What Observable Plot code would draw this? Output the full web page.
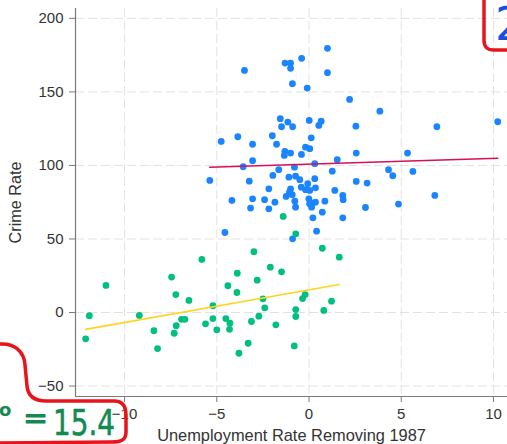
<!DOCTYPE html>
<html>
<head>
<meta charset="utf-8">
<script src="https://cdn.jsdelivr.net/npm/d3@7"></script>
<script src="https://cdn.jsdelivr.net/npm/@observablehq/plot@0.6"></script>
<style>
  html, body { margin: 0; padding: 0; background: #fff; }
  #wrap { position: relative; width: 507px; height: 444px; overflow: hidden; }
  #wrap svg.overlay { position: absolute; left: 0; top: 0; pointer-events: none; }
</style>
</head>
<body>
<div id="wrap"></div>
<script>
// Group 1 (blue): unemployment rate (x) and crime rate (y)
const blueX = [1.0,-3.5,-1.3,-1.0,-1.0,-0.4,1.0,-0.9,-0.1,2.2,3.84,2.54,6.93,10.23,-1.56,-1.15,-1.49,-0.89,0.01,0.66,0.53,
  -4.76,-3.86,-3.06,-1.99,-1.76,0.12,-0.19,0.04,-1.31,-1.34,-1.0,-0.41,2.56,5.34,1.53,0.31,-0.79,-3.06,-3.57,-1.64,1.26,
  4.31,4.54,5.63,-5.38,-3.24,-1.96,-1.09,-0.73,-0.5,0.31,-0.07,2.56,3.15,-2.18,-1.0,-1.06,-0.42,-0.19,0.04,0.35,1.4,
  -0.91,-1.24,1.83,1.85,-4.18,-3.06,-2.41,-1.85,-0.77,-0.01,0.03,0.21,0.35,0.86,0.14,-0.73,-2.18,-3.17,0.72,0.21,1.83,
  3.06,4.85,6.82,0.41,-4.56,-0.89];
const blueY = [179.6,164.6,169.6,169.6,166.0,172.8,163.1,155.6,152.6,144.9,136.9,126.7,126.3,129.7,131.8,129.5,126.3,126.3,130.6,130.1,127.2,
  116.3,119.5,114.4,120.2,114.4,118.8,112.4,111.4,109.5,106.8,108.4,107.5,108.4,108.4,103.9,101.2,98.8,103.2,99.1,97.1,96.1,
  97.1,93.0,95.9,89.8,89.3,93.2,92.0,92.7,90.3,91.0,87.6,89.1,88.0,84.1,84.1,81.8,85.2,83.5,83.0,84.8,83.0,
  80.1,78.9,79.6,76.7,76.2,77.3,76.7,75.0,75.7,77.3,73.9,74.4,75.0,75.7,71.6,71.6,70.5,71.0,68.2,64.4,64.4,
  71.4,73.7,79.6,55.3,54.4,50.1];
// Group 2 (green)
const greenX = [-1.4,-0.72,0.72,1.64,-2.99,-5.81,-7.45,-2.1,-1.49,-3.89,-2.81,-4.4,-3.91,-11.01,-7.22,-6.51,-2.5,-2.4,-5.21,
  -0.35,-0.21,1.22,0.8,-0.72,-0.72,-2.72,-3.12,-1.8,-4.51,-4.29,-4.31,-5.21,-5.0,-5.61,-6.91,-6.73,-7.2,-7.31,-3.3,-3.8,
  -0.8,-11.91,-12.11,-9.2,-8.41,-8.21];
const greenY = [65.3,53.5,43.7,37.6,41.3,36.1,24.1,30.8,27.7,26.7,22.0,18.2,13.6,18.4,12.2,8.2,9.3,3.2,4.6,
  9.5,12.2,7.7,1.4,2.0,-2.7,-2.5,-6.1,-8.4,-4.1,-7.3,-11.4,-4.1,-11.8,-7.7,-4.6,-4.6,-9.0,-14.1,-20.9,-27.7,
  -22.7,-2.2,-17.9,-2.0,-12.4,-24.5];
// fitted lines (intercept, slope) per group
const fitIntercepts = [100.9, 15.4];
const fitSlopes = [0.39, 2.22];

const xTicks = [-10, -5, 0, 5, 10];
const yTicks = [-50, 0, 50, 100, 150, 200];
const xDomain = [-12.66, 10.76];
const yDomain = [-57.1, 206.7];
const xLabel = "Unemployment Rate Removing 1987";
const yLabel = "Crime Rate";
const noteTop = "2";
const noteBottomSub = "o";
const noteBottomEq = "=";
const noteBottomVal = "15.4";

const blue = blueX.map((x, i) => ({x, y: blueY[i]}));
const green = greenX.map((x, i) => ({x, y: greenY[i]}));
const fitLine = (xs, k) => d3.extent(xs).map(x => ({x, y: fitIntercepts[k] + fitSlopes[k] * x}));

const grid = {stroke: "#e2e2e2", strokeDasharray: "9,4", strokeWidth: 1};
const axisColor = "#7a7a7a";

const chart = Plot.plot({
  width: 507,
  height: 444,
  marginLeft: 75,
  marginRight: 0,
  marginTop: 8,
  marginBottom: 48,
  style: {fontFamily: "'Liberation Sans', Arial, sans-serif", background: "#fff", color: "#333"},
  x: {domain: xDomain},
  y: {domain: yDomain},
  marks: [
    Plot.ruleX(xTicks, grid),
    Plot.ruleY(yTicks, grid),
    Plot.ruleX([xDomain[0]], {stroke: axisColor, strokeWidth: 1.2}),
    Plot.ruleY([yDomain[0]], {stroke: axisColor, strokeWidth: 1.2}),
    Plot.axisY(yTicks, {tickSize: 6, tickPadding: 6, fontSize: 15, stroke: axisColor, fill: "#333", label: null}),
    Plot.axisX(xTicks, {tickSize: 6, tickPadding: 6, fontSize: 15, stroke: axisColor, fill: "#333", label: null}),
    Plot.text([yLabel], {frameAnchor: "left", textAnchor: "middle", lineAnchor: "middle", rotate: -90, dx: -60, fontSize: 16.2, fill: "#333"}),
    Plot.text([xLabel], {frameAnchor: "bottom", textAnchor: "middle", lineAnchor: "middle", dy: 39, fontSize: 16.4, fill: "#333"}),
    Plot.dot(blue, {x: "x", y: "y", r: 3.4, fill: "#1a85ff", stroke: null}),
    Plot.dot(green, {x: "x", y: "y", r: 3.4, fill: "#00bf7f", stroke: null}),
    Plot.line(fitLine(blueX, 0), {x: "x", y: "y", stroke: "#d41159", strokeWidth: 1.6}),
    Plot.line(fitLine(greenX, 1), {x: "x", y: "y", stroke: "#ffd420", strokeWidth: 1.6})
  ]
});
document.getElementById("wrap").appendChild(chart);

// hand-drawn annotations overlay
const ov = d3.select("#wrap").append("svg").attr("class", "overlay")
  .attr("width", 507).attr("height", 444);
ov.append("path")
  .attr("d", "M484,0 L484,40 C484,47 487,50 494,50 L507,50")
  .attr("fill", "none").attr("stroke", "#e8141c").attr("stroke-width", 3.5).attr("stroke-linecap", "round");
ov.append("text").text(noteTop)
  .attr("x", 495).attr("y", 40).attr("font-size", 46).attr("font-family", "'DejaVu Sans', sans-serif")
  .attr("fill", "#1650dc");
ov.append("path")
  .attr("d", "M0,344 C14,343 24,351 25,365 L27,386 C28,396 34,401 46,401 L114,401 C122,401 126,406 126,415 L126,432 C126,440 121,442 112,442 L0,443")
  .attr("fill", "none").attr("stroke", "#e8141c").attr("stroke-width", 3.5).attr("stroke-linecap", "round");
const gcol = "#138a52";
ov.append("text").text(noteBottomSub).attr("x", -1).attr("y", 416).attr("font-size", 18)
  .attr("font-family", "'DejaVu Sans', sans-serif").attr("font-weight", "bold").attr("fill", gcol);
ov.append("text").text(noteBottomEq).attr("x", 23).attr("y", 428).attr("font-size", 30)
  .attr("font-family", "'DejaVu Sans', sans-serif").attr("fill", gcol)
  .attr("stroke", gcol).attr("stroke-width", 0.8);
ov.append("text").text(noteBottomVal).attr("x", 53).attr("y", 435).attr("font-size", 36)
  .attr("font-family", "'DejaVu Sans', sans-serif").attr("fill", gcol)
  .attr("textLength", 62).attr("lengthAdjust", "spacingAndGlyphs")
  .attr("stroke", gcol).attr("stroke-width", 0.6);
</script>
</body>
</html>
